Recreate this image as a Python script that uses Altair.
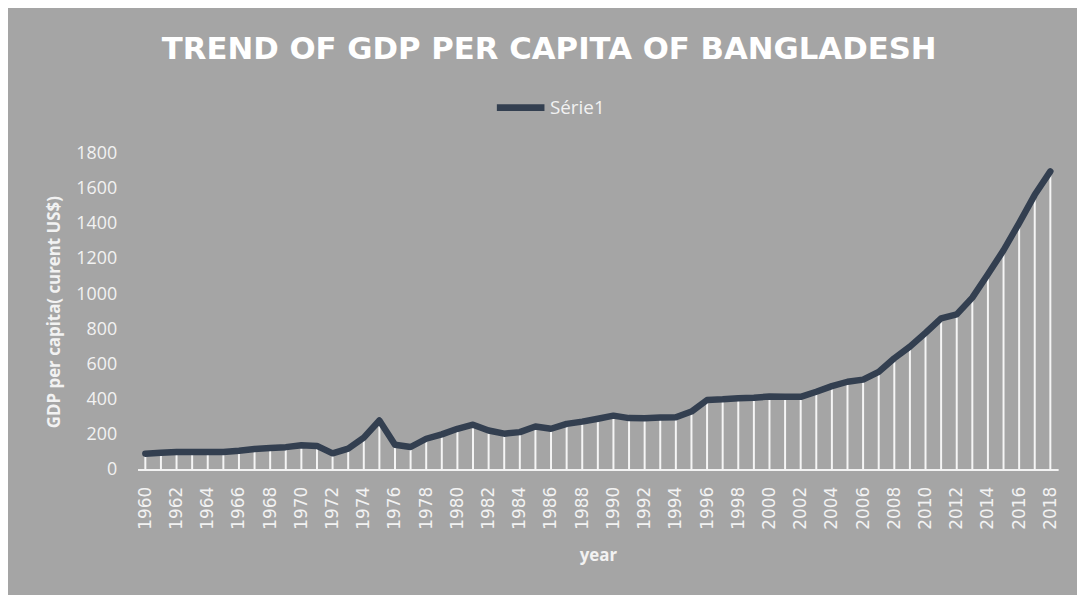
import altair as alt
import pandas as pd

years = list(range(1960, 2019))
gdp = [90, 95, 99, 100, 100, 99, 107, 117, 122, 127,
       138, 134, 92, 119, 181, 279, 141, 128, 175, 200,
       232, 255, 222, 204, 213, 245, 232, 260, 273, 289,
       307, 293, 292, 296, 298, 330, 396, 400, 406, 409,
       416, 415, 414, 443, 475, 500, 512, 556, 634, 700,
       779, 862, 884, 980, 1113, 1250, 1405, 1566, 1700]
series_name = "Série1"
year_ticks = list(range(1960, 2019, 2))
y_ticks = list(range(0, 1801, 200))

df = pd.DataFrame({"year": years, "gdp": gdp, "series": [series_name] * len(years)})

BG = "#A5A5A5"
LINE = "#333F50"
TXT = "#F2F2F2"

x_enc = alt.X(
    "year:Q",
    scale=alt.Scale(domain=[1959.5, 2018.5], nice=False, zero=False),
    axis=alt.Axis(
        values=year_ticks, format="d", labelAngle=-90, labelFont="DejaVu Sans",
        labelFontSize=17, labelColor=TXT, labelPadding=17, ticks=False,
        domain=True, domainColor="#F2F2F2", domainWidth=2, grid=False,
        title="year", titleFont="Open Sans", titleFontWeight="bold",
        titleFontSize=17, titleColor=TXT, titleY=87, titleBaseline="middle",
        labelFlush=False, labelOverlap=False,
    ),
)
y_enc = alt.Y(
    "gdp:Q",
    scale=alt.Scale(domain=[0, 1800], nice=False),
    axis=alt.Axis(
        values=y_ticks, format="d", labelFont="Open Sans", labelFontSize=18,
        labelColor=TXT, labelPadding=21, ticks=False, domain=False, grid=False,
        labelOverlap=False, labelFlush=False,
        title="GDP per capita( curent US$)", titleFont="Open Sans",
        titleFontWeight="bold", titleFontSize=17, titleColor=TXT,
        titleX=-84, titleBaseline="middle",
    ),
)

drops = alt.Chart(df).mark_rule(color="#F5F5F5", strokeWidth=2).encode(
    x=x_enc,
    y=y_enc,
    y2=alt.datum(0),
)

line = alt.Chart(df).mark_line(strokeWidth=6.5, strokeCap="round", strokeJoin="round").encode(
    x=x_enc,
    y=y_enc,
    color=alt.Color(
        "series:N",
        scale=alt.Scale(domain=[series_name], range=[LINE]),
        legend=alt.Legend(
            title=None, orient="none", legendX=358.5, legendY=-74,
            symbolType="stroke", symbolSize=2300, symbolStrokeWidth=7,
            labelFont="Open Sans", labelFontSize=19, labelColor=TXT,
            labelOffset=2,
        ),
    ),
)

chart = alt.layer(drops, line).properties(
    width=927.5,
    height=318,
    padding={"left": 130.5, "top": 144.7, "right": 19, "bottom": 124.3},
    autosize=alt.AutoSizeParams(type="none"),
    background=BG,
    title=alt.TitleParams(
        "TREND OF GDP PER CAPITA OF BANGLADESH", font="DejaVu Sans",
        fontSize=31, fontWeight="bold", color="#FFFFFF", anchor="middle",
        dx=-49, offset=26, dy=35, baseline="alphabetic",
    ),
).configure_view(stroke=None)

chart.save("out.html", embed_options={"renderer": "svg", "actions": False})
